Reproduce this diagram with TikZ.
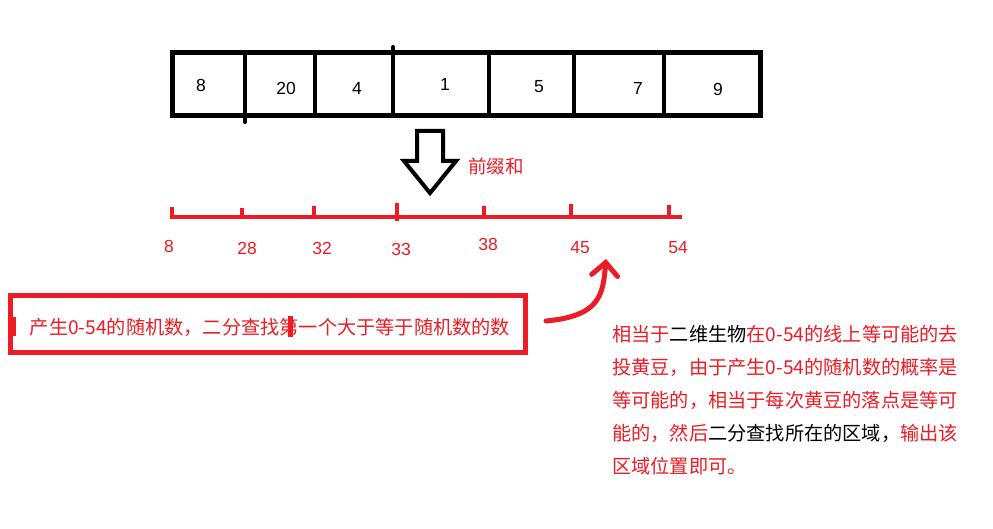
\documentclass[tikz,border=0pt]{standalone}
\usepackage{fontspec}
\setmainfont{Liberation Sans}
\newfontfamily\cjk{Noto Sans CJK SC}
\usetikzlibrary{arrows.meta}
\definecolor{paintred}{RGB}{237,28,36}

\begin{document}
\begin{tikzpicture}[x=1pt,y=-1pt,
  cellnum/.style={font=\fontsize{17.5}{17.5}\selectfont, text=black, inner sep=0pt},
  ticklab/.style={font=\fontsize{17.5}{17.5}\selectfont, text=paintred, inner sep=0pt},
  cjktext/.style={font=\cjk\fontsize{19.2}{33}\selectfont, inner sep=0pt}]
  \useasboundingbox[fill=white] (0,0) rectangle (993,529);

  %% The array: outer frame, hand-drawn dividers, values.
  \draw[line width=5pt] (172,53) rectangle (760,116);
  \foreach \x/\ya/\yb in {245/55/122, 315/53/116, 393/47/115,
                          489/56/116, 574/53/116, 664/53/116} {
    \draw[line width=4pt, line cap=round] (\x,\ya) -- (\x,\yb);
  }
  \foreach \x/\y/\v [count=\i] in {201/85/8, 286/88/20, 357/88/4, 445/84/1,
                                   539/87/5, 638/88/7, 718/89/9} {
    \node[cellnum] (val\i) at (\x,\y) {\v};
  }

  %% Hollow arrow down to the prefix sums.
  \draw[line width=4pt, line join=miter, fill=white]
    (417,131) -- (443,131) -- (443,161) -- (456,161) -- (430,193)
    -- (404,161) -- (417,161) -- cycle;
  \node[cjktext, text=paintred, font=\cjk\fontsize{18.5}{18.5}\selectfont]
    (prefix) at (496,166) {前缀和};

  %% Prefix-sum number line.
  \draw[paintred, line width=4pt] (170,217) -- (682,217);
  \foreach \x/\ya/\yb in {172/207/217, 242/208/217, 314/206/217, 397/203/221,
                          484/206/217, 571/204/217, 669/205/217} {
    \draw[paintred, line width=3.5pt] (\x,\ya) -- (\x,\yb);
  }
  \foreach \x/\y/\v [count=\i] in {169/246/8, 247/248/28, 322/248/32, 401/249/33,
                                   488/244/38, 580/248/45, 678/248/54} {
    \node[ticklab] (sum\i) at (\x,\y) {\v};
  }

  %% Question box.
  \draw[paintred, line width=5pt] (10,296) rectangle (525,352);
  \fill[paintred] (13,317) rectangle (15.5,336);
  \fill[paintred] (287.5,316) rectangle (292.5,337);
  \node[cjktext, text=paintred] (query) at (270,327)
    {产生0-54的随机数，二分查找第一个大于等于随机数的数};

  %% Curved arrow up to the line.
  \coordinate (arrfrom) at (546,321);
  \coordinate (arrto) at (606,259);
  \draw[paintred, line width=5pt, line cap=round,
        -{Straight Barb[length=13pt, width=26pt, line cap=round]}]
    (arrfrom) .. controls (600,316) and (603,295) .. (arrto);

  %% Explanation.
  \node[cjktext, anchor=north west, align=left, text=black] (note) at (612,325)
    {{\color{paintred}相当于}二维生物{\color{paintred}在0-54的线上等可能的去}\\
     {\color{paintred}投黄豆，由于产生0-54的随机数的概率是}\\
     {\color{paintred}等可能的，相当于每次黄豆的落点是等可}\\
     {\color{paintred}能的，然后}二分查找所在的区域，{\color{paintred}输出该}\\
     {\color{paintred}区域位置即可。}};
\end{tikzpicture}
\end{document}
